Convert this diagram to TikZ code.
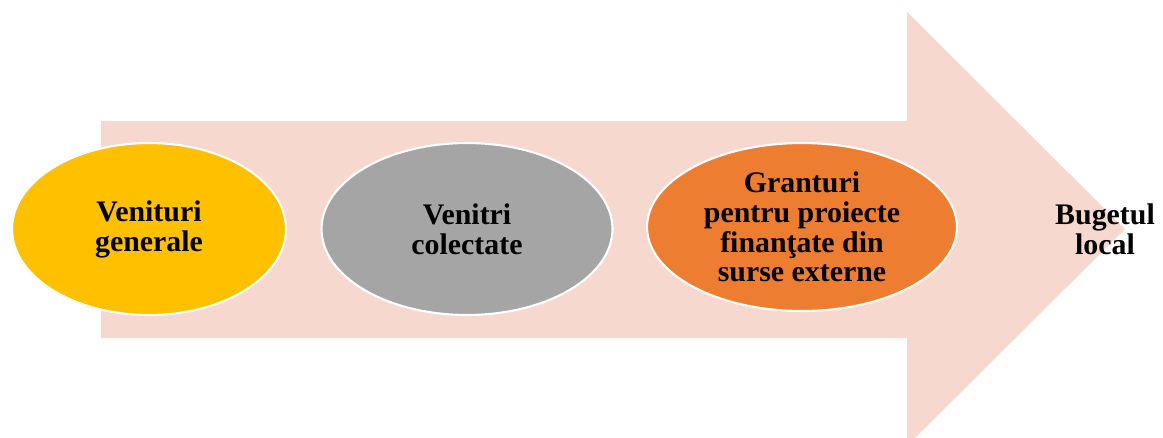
\documentclass[tikz,border=0pt]{standalone}
\usepackage{fontspec}
\setmainfont{Liberation Serif}
\usetikzlibrary{shapes.geometric}
\definecolor{arrowpink}{HTML}{F7D8CE}
\definecolor{venyellow}{HTML}{FFC000}
\definecolor{vengray}{HTML}{A5A5A5}
\definecolor{venorange}{HTML}{ED7D31}
\begin{document}
\begin{tikzpicture}[x=0.02cm, y=-0.02cm, line join=round,
		font=\fontsize{17}{17}\selectfont\bfseries,
		source/.style={ellipse, draw=white, line width=1.2pt, inner sep=0pt, align=center, minimum height=3.44cm}]
			\useasboundingbox (0,0) rectangle (1163,437);
			\clip (0,0) rectangle (1163,437);
			% big arrow
			\fill[arrowpink] (101,121)--(907,121)--(907,12)--(1125,229)--(907,446)--(907,338)--(101,338)--cycle;
			\node[source, fill=venyellow, minimum width=5.48cm] (general) at (149,229) {Venituri\\generale};
			\node[source, fill=vengray, minimum width=5.82cm] (colectate) at (467,229) {Venitri\\colectate};
			\node[source, fill=venorange, minimum width=6.2cm, minimum height=3.36cm] (granturi) at (802,227) {Granturi\\pentru proiecte\\finanţate din\\surse externe};
			\node[align=center] (buget) at (1105,229) {Bugetul\\local};
		\end{tikzpicture}
\end{document}
